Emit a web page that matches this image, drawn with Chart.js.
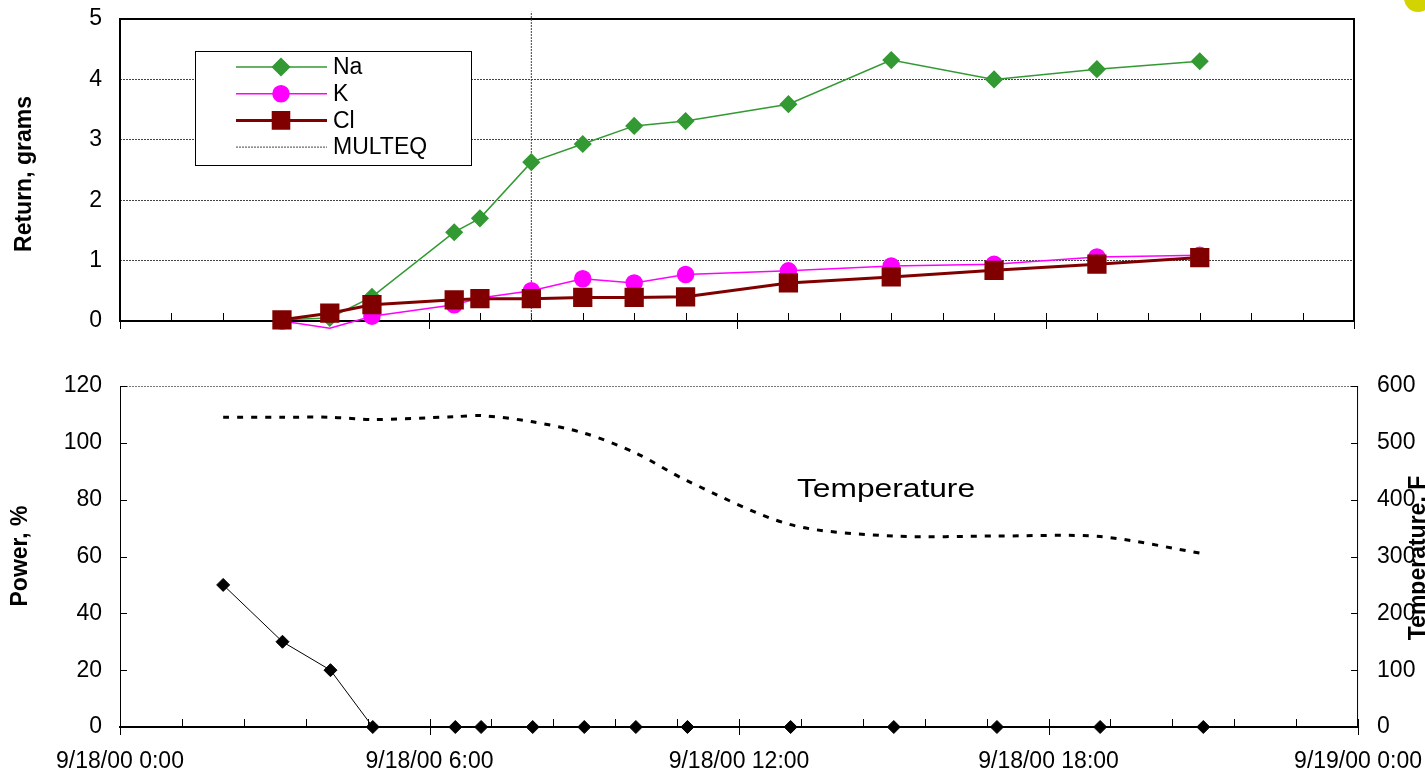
<!DOCTYPE html>
<html>
<head>
<meta charset="utf-8">
<title>Return and power vs time</title>
<script src="https://cdn.jsdelivr.net/npm/chart.js@4.4.1/dist/chart.umd.min.js"></script>
<style>
  html, body { margin: 0; padding: 0; background: #fff; overflow: hidden; }
  #wrap { position: relative; width: 1425px; height: 775px; }
  #wrap canvas { position: absolute; left: 0; }
  #returnChart { top: 0; }
  #powerChart { top: 345px; }
  .marker-dot { position: absolute; left: 1404px; top: -16px; width: 28px; height: 28px; border-radius: 50%; background: #d3d300; }
</style>
</head>
<body>
<div id="wrap">
  <canvas id="returnChart" width="1425" height="345"></canvas>
  <canvas id="powerChart" width="1425" height="430"></canvas>
  <div class="marker-dot"></div>
</div>
<script>
// sample times in hours after 9/18/00 0:00
const sampleHours = [3.15, 4.08, 4.9, 6.5, 7, 8, 9, 10, 11, 13, 15, 17, 19, 21];
const naGrams = [0.02, 0.05, 0.4, 1.47, 1.7, 2.63, 2.93, 3.23, 3.31, 3.59, 4.32, 4.0, 4.17, 4.3];
const kGrams = [0.0, -0.12, 0.08, 0.27, 0.38, 0.5, 0.7, 0.63, 0.77, 0.83, 0.91, 0.94, 1.06, 1.09];
const clGrams = [0.02, 0.13, 0.27, 0.35, 0.37, 0.37, 0.39, 0.39, 0.4, 0.63, 0.73, 0.84, 0.94, 1.05];
const multeqHours = [8, 8];
const multeqGrams = [0, 5.12];

const powerHours = [2, 3.15, 4.08, 4.9, 6.5, 7, 8, 9, 10, 11, 13, 15, 17, 19, 21];
const powerPct = [50, 30, 20, 0, 0, 0, 0, 0, 0, 0, 0, 0, 0, 0, 0];
const tempF = [545, 545, 545, 541, 546, 548, 537, 517, 482, 433, 356, 336, 336, 335, 305];

const xTickLabels = ['9/18/00 0:00', '9/18/00 6:00', '9/18/00 12:00', '9/18/00 18:00', '9/19/00 0:00'];

const FONT = "'Liberation Sans', Arial, sans-serif";
Chart.defaults.font.family = FONT;
Chart.defaults.font.size = 23;
Chart.defaults.color = '#000';
Chart.defaults.animation = false;

const pts = (xs, ys) => xs.map((x, i) => ({ x, y: ys[i] }));

function line(ctx, x0, y0, x1, y1) {
  ctx.beginPath();
  ctx.moveTo(x0, y0);
  ctx.lineTo(x1, y1);
  ctx.stroke();
}

// plot frame + excel style tick marks
function makeDecor(cfg) {
  return {
    id: 'decor',
    beforeDatasetsDraw(chart) {
      const { ctx, chartArea: a } = chart;
      const x = chart.scales.x;
      ctx.save();
      ctx.strokeStyle = '#000';
      if (cfg.box) {
        ctx.lineWidth = 2;
        ctx.strokeRect(a.left, a.top, a.right - a.left, a.bottom - a.top);
      } else {
        ctx.lineWidth = 1;
        ctx.strokeStyle = '#777';
        ctx.setLineDash([2, 1]);
        line(ctx, a.left, a.top + 0.5, a.right, a.top + 0.5);
        ctx.setLineDash([]);
        ctx.strokeStyle = '#000';
        line(ctx, a.left + 0.5, a.top, a.left + 0.5, a.bottom);
        line(ctx, a.right - 0.5, a.top, a.right - 0.5, a.bottom);
        ctx.lineWidth = 2;
        line(ctx, a.left - 1, a.bottom, a.right + 1, a.bottom);
      }
      ctx.lineWidth = 1;
      ctx.strokeStyle = '#000';
      const n = Math.round(24 / cfg.minorStep);
      for (let i = 0; i <= n; i++) {
        const h = i * cfg.minorStep;
        const px = Math.round(x.getPixelForValue(h)) + 0.5;
        const major = Math.abs(h / 6 - Math.round(h / 6)) < 1e-6;
        line(ctx, px, a.bottom - 8, px, major ? a.bottom + 8 : a.bottom);
      }
      (cfg.yTicks || []).forEach(t => {
        const s = chart.scales[t.axis];
        const x0 = t.side === 'left' ? a.left : a.right;
        const dx = t.side === 'left' ? 7 : -7;
        s.ticks.forEach(tk => {
          const py = Math.round(s.getPixelForValue(tk.value)) + 0.5;
          line(ctx, x0, py, x0 + dx, py);
        });
      });
      ctx.restore();
    }
  };
}

function makeCaptions(items) {
  return {
    id: 'captions',
    afterDraw(chart) {
      const ctx = chart.ctx;
      items.forEach(it => {
        ctx.save();
        ctx.translate(it.x, it.y);
        if (it.rotate) ctx.rotate(-Math.PI / 2);
        if (it.scaleX) ctx.scale(it.scaleX, 1);
        ctx.font = it.font;
        ctx.fillStyle = '#000';
        ctx.textAlign = it.align || 'center';
        ctx.textBaseline = it.baseline || 'middle';
        ctx.fillText(it.text, 0, 0);
        ctx.restore();
      });
    }
  };
}

// boxed legend inside the plot, like the excel one
function makeLegend(box) {
  return {
    id: 'boxLegend',
    afterDraw(chart) {
      const ctx = chart.ctx;
      ctx.save();
      ctx.fillStyle = '#fff';
      ctx.fillRect(box.x, box.y, box.w, box.h);
      ctx.strokeStyle = '#000';
      ctx.lineWidth = 1;
      ctx.strokeRect(box.x + 0.5, box.y + 0.5, box.w, box.h);
      chart.data.datasets.forEach((ds, i) => {
        const y = box.y + box.first + i * box.step;
        ctx.strokeStyle = ds.borderColor;
        ctx.lineWidth = ds.borderWidth;
        ctx.setLineDash(ds.borderDash || []);
        line(ctx, box.x + 41, y, box.x + 132, y);
        ctx.setLineDash([]);
        if (ds.markerSize) {
          ctx.fillStyle = ds.backgroundColor;
          ctx.strokeStyle = ds.borderColor;
          Chart.helpers.drawPoint(ctx, { pointStyle: ds.pointStyle, radius: ds.markerSize, rotation: 0, borderWidth: 1 }, box.x + 86, y);
        }
        ctx.fillStyle = '#000';
        ctx.font = '23px ' + FONT;
        ctx.textAlign = 'left';
        ctx.textBaseline = 'middle';
        ctx.fillText(ds.label, box.x + 138, y + 1);
      });
      ctx.restore();
    }
  };
}

// nudge layout padding until the plot area sits where the original has it
function fitArea(chart, want) {
  for (let i = 0; i < 8; i++) {
    const a = chart.chartArea;
    const p = chart.config.options.layout.padding;
    chart.config.options.layout.padding = {
      left: p.left + want.left - a.left,
      top: p.top + want.top - a.top,
      right: p.right + a.right - want.right,
      bottom: p.bottom + a.bottom - want.bottom
    };
    chart.update('none');
  }
}

// ticks are kept transparent; the tick length just spaces the labels
const hiddenTicks = { drawOnChartArea: false, drawTicks: true, tickLength: 18, tickColor: 'rgba(0,0,0,0)' };

const returnChart = new Chart(document.getElementById('returnChart'), {
  type: 'line',
  data: {
    datasets: [
      { label: 'Na', data: pts(sampleHours, naGrams), borderColor: '#339933', backgroundColor: '#339933',
        borderWidth: 1.5, pointStyle: 'rectRot', pointRadius: 8, markerSize: 8.5, order: 3, clip: false },
      { label: 'K', data: pts(sampleHours, kGrams), borderColor: '#ff00ff', backgroundColor: '#ff00ff',
        borderWidth: 1.5, pointStyle: 'circle', pointRadius: kGrams.map(v => v < 0 ? 0 : 8), markerSize: 8, order: 2, clip: false },
      { label: 'Cl', data: pts(sampleHours, clGrams), borderColor: '#800000', backgroundColor: '#800000',
        borderWidth: 3, pointStyle: 'rect', pointRadius: 11.5, markerSize: 11, order: 1, clip: false },
      { label: 'MULTEQ', data: pts(multeqHours, multeqGrams), borderColor: '#444', backgroundColor: '#444',
        borderWidth: 1, borderDash: [2, 1], pointRadius: 0, markerSize: 0, order: 4, clip: false }
    ]
  },
  options: {
    responsive: false,
    layout: { padding: { left: 0, top: 0, right: 0, bottom: 0 } },
    scales: {
      x: { type: 'linear', min: 0, max: 24,
        grid: { display: false, drawTicks: false }, border: { display: false }, ticks: { display: false } },
      y: { min: 0, max: 5, ticks: { stepSize: 1, padding: 0 },
        grid: { color: '#444', lineWidth: 1, drawTicks: true, tickLength: 18, tickColor: 'rgba(0,0,0,0)' },
        border: { display: false, dash: [2, 1] } }
    },
    plugins: { legend: { display: false }, tooltip: { enabled: false } }
  },
  plugins: [
    makeDecor({ box: true, minorStep: 1 }),
    makeLegend({ x: 195, y: 51, w: 276, h: 114, first: 16, step: 26.7 }),
    makeCaptions([
      { text: 'Return, grams', x: 25, y: 174, rotate: true, font: 'bold 23px ' + FONT }
    ])
  ]
});

const powerChart = new Chart(document.getElementById('powerChart'), {
  type: 'line',
  data: {
    datasets: [
      { label: 'Power', data: pts(powerHours, powerPct), yAxisID: 'y', borderColor: '#000', backgroundColor: '#000',
        borderWidth: 1, pointStyle: 'rectRot', pointRadius: 6.5, clip: false },
      { label: 'Temperature', data: pts(powerHours, tempF), yAxisID: 'y2', borderColor: '#000',
        borderWidth: 3, borderDash: [6, 8], pointRadius: 0, tension: 0.3 }
    ]
  },
  options: {
    responsive: false,
    layout: { padding: { left: 0, top: 0, right: 0, bottom: 0 } },
    scales: {
      x: { type: 'linear', min: 0, max: 24,
        grid: hiddenTicks, border: { display: false },
        ticks: { stepSize: 6, autoSkip: false, maxRotation: 0, padding: 3,
          callback: v => xTickLabels[Math.round(v / 6)] } },
      y: { position: 'left', min: 0, max: 120, ticks: { stepSize: 20, padding: 0 },
        grid: hiddenTicks, border: { display: false } },
      y2: { position: 'right', min: 0, max: 600, ticks: { stepSize: 100, padding: 1 },
        grid: hiddenTicks, border: { display: false } }
    },
    plugins: { legend: { display: false }, tooltip: { enabled: false } }
  },
  plugins: [
    makeDecor({ box: false, minorStep: 1.2, yTicks: [{ axis: 'y', side: 'left' }, { axis: 'y2', side: 'right' }] }),
    makeCaptions([
      { text: 'Power, %', x: 21, y: 211, rotate: true, font: 'bold 23px ' + FONT },
      { text: 'Temperature, F', x: 1425, y: 213, rotate: true, baseline: 'alphabetic', font: 'bold 23px ' + FONT },
      { text: 'Temperature', x: 797, y: 152, scaleX: 1.22, align: 'left', baseline: 'alphabetic', font: '26px ' + FONT }
    ])
  ]
});

fitArea(returnChart, { left: 120, top: 19, right: 1354, bottom: 321 });
fitArea(powerChart, { left: 120, top: 41, right: 1357, bottom: 382 });
</script>
</body>
</html>
